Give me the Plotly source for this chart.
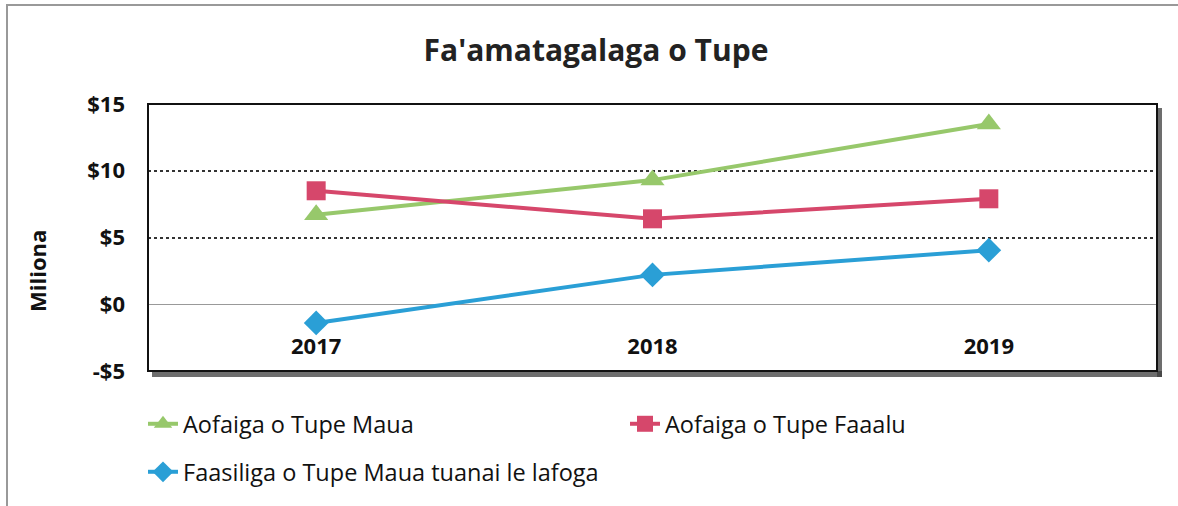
import plotly.graph_objects as go

years = ["2017", "2018", "2019"]
series_names = ["Aofaiga o Tupe Maua", "Aofaiga o Tupe Faaalu", "Faasiliga o Tupe Maua tuanai le lafoga"]
maua = [6.7, 9.3, 13.5]
faaalu = [8.5, 6.4, 7.9]
faasiliga = [-1.4, 2.2, 4.05]
ytick_vals = [-5, 0, 5, 10, 15]
ytick_text = ["-$5", "$0", "$5", "$10", "$15"]

W, H = 1178, 506
ml, mr, mt, mb = 148, 21, 104, 135
pw, ph = W - ml - mr, H - mt - mb

def px_x(p):
    return (p - ml) / pw

def px_y(p):
    return (H - mb - p) / ph

font_main = "Open Sans"
leg_font = dict(family=font_main, size=23.5, color="#111111")

fig = go.Figure()
fig.add_trace(go.Scatter(x=years, y=maua, name=series_names[0], mode="lines+markers",
                         line=dict(color="#97C86B", width=4),
                         marker=dict(symbol="triangle-up", size=21, color="#97C86B"),
                         legend="legend2"))
fig.add_trace(go.Scatter(x=years, y=faaalu, name=series_names[1], mode="lines+markers",
                         line=dict(color="#D6476B", width=4),
                         marker=dict(symbol="square", size=19, color="#D6476B"),
                         legend="legend3"))
fig.add_trace(go.Scatter(x=years, y=faasiliga, name=series_names[2], mode="lines+markers",
                         line=dict(color="#2A9FD6", width=4),
                         marker=dict(symbol="diamond", size=19, color="#2A9FD6"),
                         legend="legend4"))

shapes = [
    # outer frame
    dict(type="rect", xref="paper", yref="paper", x0=px_x(7), x1=px_x(1190), y0=px_y(520), y1=px_y(5),
         line=dict(color="#999999", width=2), layer="below"),
    # shadow bottom
    dict(type="rect", xref="paper", yref="paper", x0=px_x(ml + 4), x1=px_x(W - mr + 5),
         y0=px_y(H - mb + 6), y1=px_y(H - mb), line=dict(width=0), fillcolor="rgba(60,60,60,0.75)", layer="below"),
    # shadow right
    dict(type="rect", xref="paper", yref="paper", x0=px_x(W - mr), x1=px_x(W - mr + 5),
         y0=px_y(H - mb + 6), y1=px_y(mt + 4), line=dict(width=0), fillcolor="rgba(60,60,60,0.75)", layer="below"),
    # plot border
    dict(type="rect", xref="paper", yref="paper", x0=0, x1=1, y0=0, y1=1,
         line=dict(color="#111111", width=2)),
]

fig.update_layout(
    width=W, height=H,
    margin=dict(l=ml, r=mr, t=mt, b=mb),
    paper_bgcolor="white", plot_bgcolor="white",
    title=dict(text="<b>Fa'amatagalaga o Tupe</b>", x=px_x(596), xref="paper", xanchor="center",
               y=1 - 50 / H, yanchor="middle", font=dict(family=font_main, size=30, color="#222222")),
    xaxis=dict(type="category", range=[-0.5, 2.5], anchor="free", position=0.25,
               showgrid=False, showline=False, zeroline=False,
               ticks="outside", ticklen=22, tickcolor="rgba(0,0,0,0)",
               tickfont=dict(family=font_main, size=22, color="#111111", weight="bold")),
    yaxis=dict(range=[-5, 15], tickvals=ytick_vals, ticktext=ytick_text,
               showgrid=True, gridcolor="#333333", griddash="dot", gridwidth=1.5,
               zeroline=True, zerolinecolor="#999999", zerolinewidth=1,
               showline=False, ticks="", ticklabelstandoff=22,
               tickfont=dict(family=font_main, size=22, color="#111111", weight="bold")),
    showlegend=True,
    legend=dict(visible=False),
    legend2=dict(orientation="h", x=px_x(143), y=px_y(424), xanchor="left", yanchor="middle",
                 font=leg_font, bgcolor="rgba(0,0,0,0)"),
    legend3=dict(orientation="h", x=px_x(625), y=px_y(424), xanchor="left", yanchor="middle",
                 font=leg_font, bgcolor="rgba(0,0,0,0)"),
    legend4=dict(orientation="h", x=px_x(143), y=px_y(472), xanchor="left", yanchor="middle",
                 font=leg_font, bgcolor="rgba(0,0,0,0)"),
    shapes=shapes,
    annotations=[dict(text="<b>Miliona</b>", xref="paper", yref="paper", x=px_x(37), y=px_y(271),
                      textangle=-90, showarrow=False, xanchor="center", yanchor="middle",
                      font=dict(family=font_main, size=22, color="#111111"))],
)

fig.write_html("out.html", config={"displayModeBar": False},
               post_script="document.body.style.margin='0px';")
